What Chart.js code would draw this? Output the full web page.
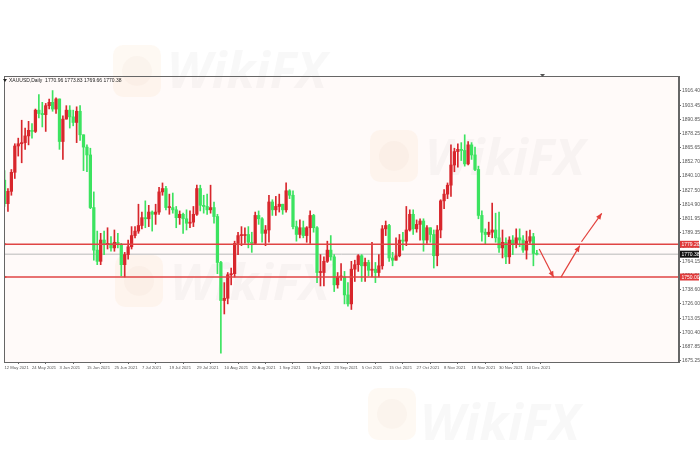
<!DOCTYPE html>
<html><head><meta charset="utf-8">
<script src="https://cdn.jsdelivr.net/npm/chart.js@4/dist/chart.umd.min.js"></script>
<style>html,body{margin:0;padding:0;background:#fff;}#wrap{width:700px;height:450px;position:relative;}</style>
</head><body><div id="wrap"><canvas id="c" width="700" height="450"></canvas></div>
<script>
// XAUUSD Daily, one candle per trading day starting 12 May 2021
const openP  = [1836.5,1815.5,1826.5,1843.5,1867,1869,1870,1876,1881,1880,1899,1896,1895,1903,1906,1900,1909,1871,1891,1899,1893,1888,1898,1877,1866,1859,1812,1774,1764,1783,1779,1780,1776,1781,1779,1761,1770,1777,1787,1791,1796,1803,1802,1808,1806,1808,1826,1829,1812,1812,1810,1803,1806,1802,1798,1799,1806,1829,1814,1813,1810,1812,1804,1763,1729,1731,1752,1753,1780,1787,1787,1788,1781,1780,1805,1802,1789,1792,1817,1810,1813,1815,1810,1827,1823,1795,1788,1794,1787,1794,1805,1794,1754,1754,1764,1774,1768,1743,1750,1750,1734,1726,1757,1761,1769,1760,1763,1756,1757,1754,1760,1793,1796,1767,1765,1769,1783,1782,1792,1806,1793,1797,1800,1783,1794,1788,1769,1792,1818,1824,1832,1850,1862,1864,1863,1851,1868,1859,1846,1805,1790,1788,1790,1792,1785,1776,1781,1768,1783,1779,1785,1783,1774,1782,1786,1770.96];
const highP  = [1845,1829,1846,1869,1874,1890,1883,1889,1887,1900,1913,1906,1905,1909,1916.5,1910,1909,1894,1903,1903,1899,1902,1903,1877,1868,1865,1826,1791,1789,1791,1794,1786,1792,1789,1780,1772,1783,1795,1795,1815,1808,1818,1814,1809,1815,1830,1834,1831,1824,1825,1813,1809,1807,1810,1809,1813,1832,1832,1823,1824,1832,1817,1806,1764,1745,1754,1758,1782,1790,1795,1794,1795,1790,1808,1809,1803,1796,1823,1819,1822,1824,1815,1834,1828,1827,1800,1801,1800,1795,1809,1806,1795,1770,1768,1782,1787,1770,1754,1762,1755,1745,1764,1765,1770,1770,1767,1765,1781,1763,1770,1796,1800,1797,1772,1785,1788,1790,1813,1810,1810,1801,1802,1802,1796,1794,1792,1796,1819,1828,1834,1868,1865,1869,1870,1877,1871,1870,1866,1849,1809,1793,1799,1816,1807,1808,1792,1785,1786,1787,1793,1793,1787,1791,1792,1789,1773.83];
const lowP   = [1813,1808.5,1823,1838,1858,1852,1864,1868,1874,1879,1892,1884,1880,1900,1898,1896,1864,1855,1891,1883,1885,1870,1872,1845,1844,1811,1765,1761,1761,1770,1775,1773,1773,1776,1751,1750,1766,1775,1785,1789,1793,1794,1795,1791,1797,1806,1823,1810,1806,1807,1794,1797,1789,1792,1794,1795,1805,1809,1807,1806,1807,1798,1753,1682,1717,1726,1743,1750,1770,1778,1780,1776,1772,1779,1797,1781,1778,1781,1805,1805,1808,1806,1808,1820,1793,1782,1785,1785,1781,1780,1790,1745,1742,1742,1763,1765,1737,1740,1747,1726,1724,1721,1746,1755,1746,1746,1751,1750,1745,1750,1757,1787,1764,1760,1765,1768,1774,1778,1791,1788,1790,1783,1773,1780,1781,1758,1760,1785,1811,1820,1822,1844,1848,1854,1849,1850,1855,1845,1802,1782,1779,1786,1785,1781,1772,1767,1762,1762,1770,1776,1777,1772,1766,1780,1760,1769.66];
const closeP = [1815.5,1826.5,1843.5,1867,1869,1870,1876,1881,1880,1899,1896,1895,1903,1906,1900,1909,1871,1891,1899,1893,1888,1898,1877,1866,1859,1812,1774,1764,1783,1779,1780,1776,1781,1779,1761,1770,1777,1787,1791,1796,1803,1802,1808,1806,1808,1826,1829,1812,1812,1810,1803,1806,1802,1798,1799,1806,1829,1814,1813,1810,1812,1804,1763,1729,1731,1752,1753,1780,1787,1787,1788,1781,1780,1805,1802,1789,1792,1817,1810,1813,1815,1810,1827,1823,1795,1788,1794,1787,1794,1805,1794,1754,1754,1764,1774,1768,1743,1750,1750,1734,1726,1757,1761,1769,1760,1763,1756,1757,1754,1760,1793,1796,1767,1765,1769,1783,1782,1792,1806,1793,1797,1800,1783,1794,1788,1769,1792,1818,1824,1832,1850,1862,1864,1863,1851,1868,1859,1846,1805,1790,1788,1790,1792,1785,1776,1781,1768,1783,1779,1785,1783,1774,1782,1786,1771,1770.38];

const xTickIndex  = [0,8,16,24,32,40,48,56,64,72,80,88,96,104,112,120,128,136,144,152];
const xTickLabels = ['12 May 2021','24 May 2021','3 Jun 2021','15 Jun 2021','25 Jun 2021','7 Jul 2021','19 Jul 2021','29 Jul 2021','10 Aug 2021','20 Aug 2021','1 Sep 2021','13 Sep 2021','23 Sep 2021','5 Oct 2021','15 Oct 2021','27 Oct 2021','8 Nov 2021','18 Nov 2021','30 Nov 2021','10 Dec 2021'];
const yTickValues = [1916.40,1903.45,1890.85,1878.25,1865.65,1852.70,1840.10,1827.50,1814.90,1801.95,1789.35,1776.75,1764.15,1751.20,1738.60,1726.00,1713.05,1700.40,1687.85,1675.25];

const resistanceLevel = 1779.20;
const supportLevel = 1750.00;
const lastPrice = 1770.38;
const titleText = 'XAUUSD,Daily  1770.96 1773.83 1769.66 1770.38';
// projected path arrows (bar index, price)
const arrowLegs = [
  [{x:155.7,y:1775.0},{x:159.9,y:1749.7}],
  [{x:162.0,y:1749.7},{x:167.5,y:1778.0}],
  [{x:168.0,y:1781.5},{x:173.9,y:1806.9}]
];

const X_MIN = -0.15, X_MAX = 196.4, Y_MIN = 1674.1, Y_MAX = 1929.5;
const UP = '#d8262c', DOWN = '#3ce360';
const candleColors = closeP.map((c,i)=> c >= openP[i] ? UP : DOWN);

const wickData = lowP.map((l,i)=>({x:i, y:[l, highP[i]]}));
const bodyData = openP.map((o,i)=>({x:i, y:[o, closeP[i]]}));
const hLine = v => [{x:X_MIN,y:v},{x:X_MAX,y:v}];

const decor = {
  id:'decor',
  beforeDraw(chart){
    const {ctx, chartArea:a} = chart;
    ctx.save();
    ctx.fillStyle='#ffffff'; ctx.fillRect(0,0,chart.width,chart.height);
    ctx.fillStyle='#fffaf9'; ctx.fillRect(a.left,a.top,a.right-a.left,a.bottom-a.top);
    const wm=(lx,ly,tx,ty)=>{
      ctx.save();
      ctx.fillStyle='rgba(245,175,90,0.07)';
      ctx.beginPath();
      if (ctx.roundRect) ctx.roundRect(lx,ly,48,52,10); else ctx.rect(lx,ly,48,52);
      ctx.fill();
      ctx.fillStyle='rgba(200,150,130,0.05)';
      ctx.beginPath(); ctx.arc(lx+24,ly+26,15,0,Math.PI*2); ctx.fill();
      ctx.font='italic bold 50px "Open Sans"';
      ctx.fillStyle='rgba(160,150,150,0.07)';
      ctx.textBaseline='alphabetic';
      ctx.fillText('WikiFX',tx,ty);
      ctx.restore();
    };
    wm(113,45,167,88);
    wm(370,130,425,175);
    wm(115,255,170,300);
    wm(368,388,420,440);
    ctx.restore();
  },
  afterDraw(chart){
    const {ctx, chartArea:a, scales:{x,y}} = chart;
    ctx.save();
    ctx.strokeStyle='#666'; ctx.lineWidth=1;
    ctx.strokeRect(a.left+0.5,a.top+0.5,a.right-a.left-1,a.bottom-a.top);
    ctx.fillStyle='#222'; ctx.font='5px "Liberation Sans"'; ctx.textBaseline='middle';
    ctx.beginPath(); ctx.moveTo(3,79); ctx.lineTo(7,79); ctx.lineTo(5,82); ctx.closePath(); ctx.fill();
    ctx.fillText(titleText, 9, 80.5);
    ctx.fillStyle='#555';
    ctx.beginPath(); ctx.moveTo(540,74); ctx.lineTo(545,74); ctx.lineTo(542.5,77); ctx.closePath(); ctx.fill();
    ctx.fillStyle='#e2403c';
    arrowLegs.forEach(leg=>{
      const p0=leg[leg.length-2], p1=leg[leg.length-1];
      const x0=x.getPixelForValue(p0.x), y0=y.getPixelForValue(p0.y);
      const x1=x.getPixelForValue(p1.x), y1=y.getPixelForValue(p1.y);
      const ang=Math.atan2(y1-y0,x1-x0), L=6, W=2.6;
      ctx.beginPath();
      ctx.moveTo(x1,y1);
      ctx.lineTo(x1-L*Math.cos(ang)+W*Math.sin(ang), y1-L*Math.sin(ang)-W*Math.cos(ang));
      ctx.lineTo(x1-L*Math.cos(ang)-W*Math.sin(ang), y1-L*Math.sin(ang)+W*Math.cos(ang));
      ctx.closePath(); ctx.fill();
    });
    const box=(v,bg)=>{
      const py=y.getPixelForValue(v);
      ctx.fillStyle=bg; ctx.fillRect(a.right+1,py-3.5,19,7);
      ctx.fillStyle='#fff'; ctx.font='5px "Liberation Sans"'; ctx.textBaseline='middle'; ctx.textAlign='left';
      ctx.fillText(v.toFixed(2), a.right+2.5, py+0.3);
    };
    box(resistanceLevel,'#e03a3a');
    box(supportLevel,'#e03a3a');
    box(lastPrice,'#111');
    ctx.restore();
  }
};

new Chart(document.getElementById('c'),{
  type:'bar',
  data:{datasets:[
    {type:'bar',data:wickData,backgroundColor:candleColors,barThickness:1,grouped:false,order:3},
    {type:'bar',data:bodyData,backgroundColor:candleColors,barThickness:2.6,minBarLength:1,grouped:false,order:2},
    {type:'line',data:hLine(lastPrice),borderColor:'#b9b9b9',borderWidth:1,pointRadius:0,order:4},
    {type:'line',data:hLine(resistanceLevel),borderColor:'#e04444',borderWidth:1.6,pointRadius:[3,0],pointStyle:'triangle',rotation:90,pointBackgroundColor:'#e04444',pointBorderWidth:0,order:1},
    {type:'line',data:hLine(supportLevel),borderColor:'#e04444',borderWidth:1.6,pointRadius:[3,0],pointStyle:'triangle',rotation:90,pointBackgroundColor:'#e04444',pointBorderWidth:0,order:1},
    ...arrowLegs.map(leg=>({type:'line',data:leg,borderColor:'#e2403c',borderWidth:1.2,pointRadius:0,order:0}))
  ]},
  options:{
    responsive:false,animation:false,
    layout:{padding:{left:1,top:76,right:0,bottom:0}},
    plugins:{legend:{display:false},tooltip:{enabled:false},title:{display:false}},
    scales:{
      x:{type:'linear',min:X_MIN,max:X_MAX,offset:false,
        afterFit:s=>{s.height=88;},
        afterBuildTicks:s=>{s.ticks=xTickIndex.map(v=>({value:v}));},
        ticks:{autoSkip:false,maxRotation:0,minRotation:0,align:'start',padding:1,color:'#555',
          font:{size:4.2,family:'Liberation Sans'},
          callback:(v)=>{const k=xTickIndex.indexOf(v);return k>=0?xTickLabels[k]:'';}},
        grid:{drawOnChartArea:false,drawTicks:true,tickLength:2,color:'#666'},
        border:{display:true,color:'#666'}},
      y:{type:'linear',position:'right',min:Y_MIN,max:Y_MAX,
        afterFit:s=>{s.width=21;},
        afterBuildTicks:s=>{s.ticks=yTickValues.map(v=>({value:v}));},
        ticks:{padding:1,color:'#555',font:{size:5,family:'Liberation Sans'},callback:v=>Number(v).toFixed(2)},
        grid:{drawOnChartArea:false,drawTicks:true,tickLength:2,color:'#666'},
        border:{display:true,color:'#666'}}
    }
  },
  plugins:[decor]
});
</script></body></html>
